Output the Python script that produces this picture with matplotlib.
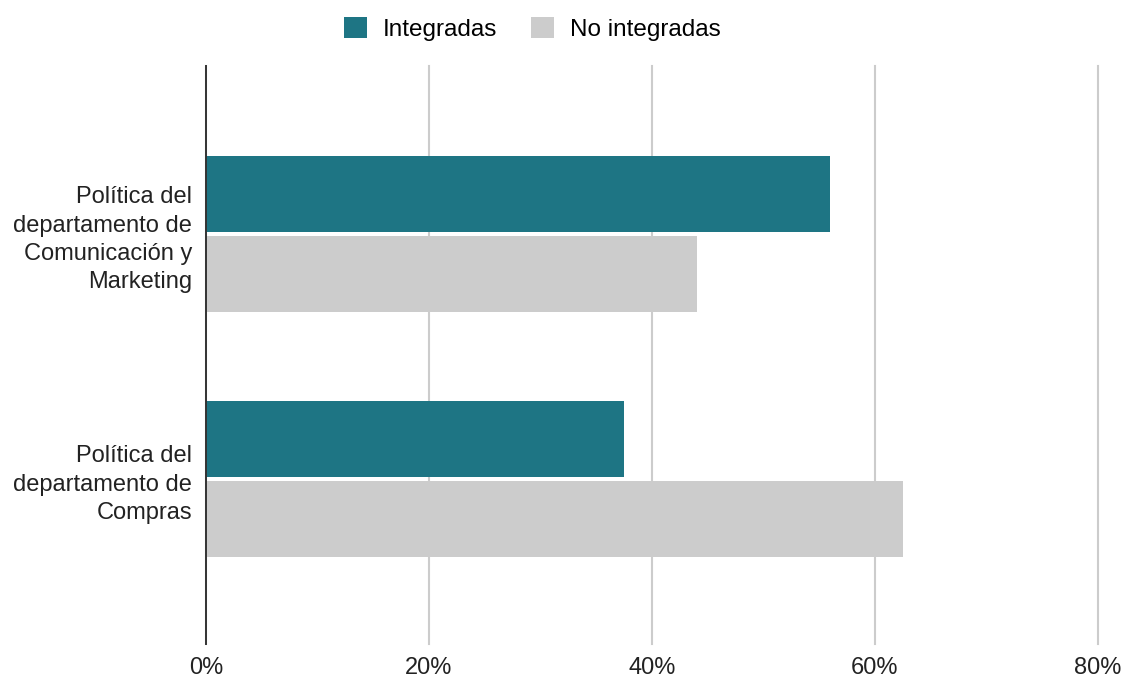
import matplotlib.pyplot as plt
import numpy as np

plt.rcParams['font.family'] = ['Liberation Sans', 'DejaVu Sans']

categories = ['Política del\ndepartamento de\nComunicación y\nMarketing',
              'Política del\ndepartamento de\nCompras']
integradas = [56.0, 37.5]
no_integradas = [44.0, 62.5]
xticks = [0, 20, 40, 60, 80]

teal = '#1e7584'
grey = '#cccccc'

fig = plt.figure(figsize=(11.23, 6.8), dpi=100)
ax = fig.add_axes([0.1834, 0.0529, 0.7943, 0.85])

y = np.arange(len(categories))
h = 0.31
off = 0.163
ax.barh(y - off, integradas, height=h, color=teal, label='Integradas', zorder=3)
ax.barh(y + off, no_integradas, height=h, color=grey, label='No integradas', zorder=3)

ax.set_xlim(0, 80)
ax.set_ylim(1.673, -0.686)
ax.set_xticks(xticks)
ax.set_xticklabels([f'{v}%' for v in xticks], fontsize=17, color='#222222')
ax.set_yticks(y)
ax.set_yticklabels(categories, fontsize=17, color='#222222', linespacing=1.37)
for lab in ax.get_yticklabels():
    lab.set_multialignment('right')
ax.tick_params(axis='both', length=0)
ax.tick_params(axis='x', pad=9)
ax.tick_params(axis='y', pad=10)

ax.grid(axis='x', color='#cccccc', linewidth=1.5, zorder=0)
for gl in ax.get_xgridlines():
    gl.set_clip_on(False)
for s in ['top', 'right', 'bottom']:
    ax.spines[s].set_visible(False)
ax.spines['left'].set_color('#333333')
ax.spines['left'].set_linewidth(1.4)
ax.spines['left'].set_zorder(4)

fig.legend(loc='center', bbox_to_anchor=(0.474, 0.957), ncol=2, frameon=False,
           fontsize=17.5, handlelength=0.95, handleheight=0.95, columnspacing=1.4,
           handletextpad=0.65)

fig.savefig('out.png', dpi=100)
